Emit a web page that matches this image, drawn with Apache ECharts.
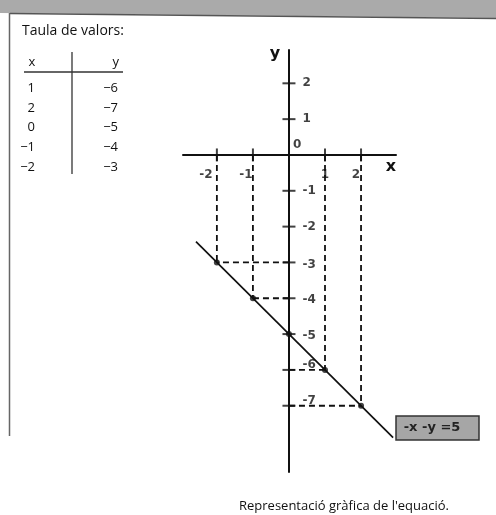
<!DOCTYPE html>
<html>
<head>
<meta charset="utf-8">
<script src="https://cdn.jsdelivr.net/npm/echarts@6/dist/echarts.min.js"></script>
<style>
  html, body { margin: 0; padding: 0; background: #fff; }
  #chart { width: 496px; height: 515px; }
</style>
</head>
<body>
<div id="chart"></div>
<script>
// Table of values for -x - y = 5
const ptsX = [1, 2, 0, -1, -2];
const ptsY = [-6, -7, -5, -4, -3];

// Tick positions along each axis
const xTicks = [-2, -1, 1, 2];
const yTicks = [2, 1, -1, -2, -3, -4, -5, -6, -7];

// End points of the drawn line
const lineX = [-2.58, 2.89];
const lineY = [-2.42, -7.89];

const equationText = '-x -y =5';
const tableTitle = 'Taula de valors:';
const caption = "Representació gràfica de l'equació.";

const fmt = v => (v < 0 ? '\u2212' + Math.abs(v) : String(v));

const chart = echarts.init(document.getElementById('chart'), null, { renderer: 'canvas' });

const numFont = { fontFamily: 'DejaVu Sans', fontWeight: 'bold', fontSize: 12, color: '#111' };

// Dashed guides from each point to both axes
const guides = [];
ptsX.forEach((x, i) => {
  const y = ptsY[i];
  [[[x, 0], [x, y]], [[0, y], [x, y]]].forEach(seg => {
    guides.push({
      type: 'line', data: seg, symbol: 'none', silent: true, z: 2,
      lineStyle: { color: '#111', width: 1.8, type: [6, 4] }
    });
  });
});

// Table layout built from the value arrays
const tableGraphics = [
  { type: 'text', left: 22, top: 24, style: { text: tableTitle, font: '14px "Open Sans"', fill: '#111' } },
  { type: 'text', style: { x: 32, y: 62, text: 'x', textAlign: 'center', textVerticalAlign: 'middle', font: '13px "Open Sans"', fill: '#111' } },
  { type: 'text', style: { x: 119, y: 62, text: 'y', textAlign: 'right', textVerticalAlign: 'middle', font: '13px "Open Sans"', fill: '#111' } },
  { type: 'line', shape: { x1: 24, y1: 72, x2: 123, y2: 72 }, style: { stroke: '#333', lineWidth: 1.3 } },
  { type: 'line', shape: { x1: 72, y1: 52, x2: 72, y2: 174 }, style: { stroke: '#333', lineWidth: 1.3 } }
];
ptsX.forEach((x, i) => {
  const cy = 88 + i * 19.8;
  tableGraphics.push({ type: 'text', style: { x: 35, y: cy, text: fmt(x), textAlign: 'right', textVerticalAlign: 'middle', font: '13px "Open Sans"', fill: '#111' } });
  tableGraphics.push({ type: 'text', style: { x: 118, y: cy, text: fmt(ptsY[i]), textAlign: 'right', textVerticalAlign: 'middle', font: '13px "Open Sans"', fill: '#111' } });
});

const option = {
  animation: false,
  backgroundColor: '#fff',
  grid: { left: 183, top: 50, width: 213, height: 422, containLabel: false },
  xAxis: {
    type: 'value', min: -2.94, max: 2.97,
    axisLine: { onZero: true, lineStyle: { color: '#111', width: 2 } },
    axisTick: { show: false }, axisLabel: { show: false }, splitLine: { show: false }
  },
  yAxis: {
    type: 'value', min: -8.85, max: 2.93,
    axisLine: { onZero: true, lineStyle: { color: '#111', width: 2 } },
    axisTick: { show: false }, axisLabel: { show: false }, splitLine: { show: false }
  },
  series: [
    ...guides,
    {
      // the graph of the equation
      type: 'line', data: lineX.map((x, i) => [x, lineY[i]]), symbol: 'none', z: 3,
      lineStyle: { color: '#111', width: 1.7 }
    },
    {
      type: 'scatter', data: ptsX.map((x, i) => [x, ptsY[i]]), z: 4,
      symbol: 'circle', symbolSize: 6, itemStyle: { color: '#111' }
    },
    {
      // x-axis ticks with their labels
      type: 'scatter', z: 5, symbol: 'rect', symbolSize: [2, 13],
      itemStyle: { color: '#111' },
      data: xTicks.map(v => ({
        value: [v, 0],
        label: { offset: [v < 0 ? (v === -2 ? -11 : -7) : (v === 1 ? 0 : -5), 0] }
      })),
      label: { show: true, position: 'bottom', distance: 7, formatter: p => String(p.value[0]), ...numFont }
    },
    {
      // y-axis ticks with their labels
      type: 'scatter', z: 5, symbol: 'rect', symbolSize: [13, 2],
      itemStyle: { color: '#111' },
      data: yTicks.map(v => ({
        value: [0, v],
        label: { offset: [0, v <= -6 ? -5 : (v <= -3 ? 2 : 0)] }
      })),
      label: { show: true, position: 'right', distance: 7, formatter: p => String(p.value[1]), ...numFont }
    },
    {
      // origin label
      type: 'scatter', z: 5, symbolSize: 0, data: [[0, 0]],
      label: { show: true, position: [4, -16], formatter: '0', ...numFont }
    }
  ],
  graphic: [
    // page frame
    { type: 'polygon', shape: { points: [[0, 0], [496, 0], [496, 18], [0, 13]] }, style: { fill: '#aaaaaa' }, z: 0 },
    { type: 'polyline', shape: { points: [[10, 13.5], [496, 18.5]] }, style: { stroke: '#555', lineWidth: 1.5 }, z: 1 },
    { type: 'line', shape: { x1: 9.5, y1: 13, x2: 9.5, y2: 436 }, style: { stroke: '#666', lineWidth: 1.5 }, z: 1 },
    ...tableGraphics,
    // axis names
    { type: 'text', style: { x: 275, y: 54, text: 'y', textAlign: 'center', textVerticalAlign: 'middle', font: 'bold 16px "DejaVu Sans"', fill: '#111' } },
    { type: 'text', style: { x: 391, y: 167, text: 'x', textAlign: 'center', textVerticalAlign: 'middle', font: 'bold 16px "DejaVu Sans"', fill: '#111' } },
    // equation box
    { type: 'rect', shape: { x: 396, y: 416, width: 83, height: 24 }, style: { fill: '#a6a6a6', stroke: '#333', lineWidth: 1.5 }, z: 10 },
    { type: 'text', z: 11, style: { x: 432, y: 428, text: equationText, textAlign: 'center', textVerticalAlign: 'middle', font: 'bold 13px "DejaVu Sans"', fill: '#222' } },
    // caption
    { type: 'text', style: { x: 239, y: 506, text: caption, textVerticalAlign: 'middle', font: '13px "Open Sans"', fill: '#111' } }
  ]
};

chart.setOption(option);
</script>
</body>
</html>
